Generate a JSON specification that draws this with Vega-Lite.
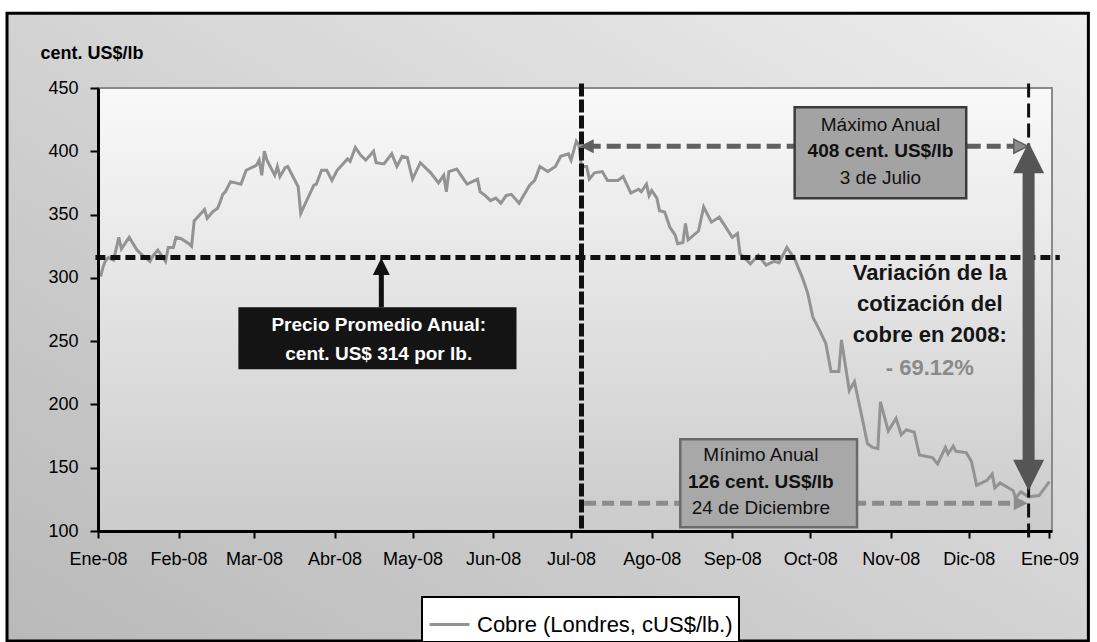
{
  "$schema": "https://vega.github.io/schema/vega-lite/v6.json",
  "width": 954,
  "height": 443,
  "autosize": "none",
  "padding": {"left": 98, "top": 88, "right": 45, "bottom": 111},
  "background": "white",
  "config": {
    "font": "Liberation Sans",
    "view": {"stroke": null},
    "legend": {"strokeWidth": 2}
  },
  "data": {"values": [{}]},
  "datasets": {
    "cobre": [
      {"fecha": "2008-01-02", "cobre": 301}, {"fecha": "2008-01-03", "cobre": 309}, {"fecha": "2008-01-04", "cobre": 314},
      {"fecha": "2008-01-05", "cobre": 316}, {"fecha": "2008-01-07", "cobre": 314}, {"fecha": "2008-01-09", "cobre": 332},
      {"fecha": "2008-01-10", "cobre": 323}, {"fecha": "2008-01-13", "cobre": 332}, {"fecha": "2008-01-16", "cobre": 322},
      {"fecha": "2008-01-18", "cobre": 318}, {"fecha": "2008-01-21", "cobre": 313}, {"fecha": "2008-01-22", "cobre": 317},
      {"fecha": "2008-01-24", "cobre": 322}, {"fecha": "2008-01-25", "cobre": 319}, {"fecha": "2008-01-27", "cobre": 313},
      {"fecha": "2008-01-28", "cobre": 324}, {"fecha": "2008-01-30", "cobre": 324}, {"fecha": "2008-01-31", "cobre": 332},
      {"fecha": "2008-02-02", "cobre": 331}, {"fecha": "2008-02-05", "cobre": 327}, {"fecha": "2008-02-06", "cobre": 325},
      {"fecha": "2008-02-07", "cobre": 345}, {"fecha": "2008-02-11", "cobre": 354}, {"fecha": "2008-02-12", "cobre": 347},
      {"fecha": "2008-02-14", "cobre": 352}, {"fecha": "2008-02-16", "cobre": 355}, {"fecha": "2008-02-17", "cobre": 360},
      {"fecha": "2008-02-18", "cobre": 366}, {"fecha": "2008-02-19", "cobre": 368}, {"fecha": "2008-02-21", "cobre": 376},
      {"fecha": "2008-02-25", "cobre": 374}, {"fecha": "2008-02-27", "cobre": 385}, {"fecha": "2008-02-29", "cobre": 387},
      {"fecha": "2008-03-02", "cobre": 389}, {"fecha": "2008-03-03", "cobre": 393}, {"fecha": "2008-03-04", "cobre": 381},
      {"fecha": "2008-03-05", "cobre": 400}, {"fecha": "2008-03-06", "cobre": 393}, {"fecha": "2008-03-09", "cobre": 381},
      {"fecha": "2008-03-10", "cobre": 388}, {"fecha": "2008-03-11", "cobre": 380}, {"fecha": "2008-03-13", "cobre": 387},
      {"fecha": "2008-03-14", "cobre": 388}, {"fecha": "2008-03-18", "cobre": 372}, {"fecha": "2008-03-19", "cobre": 351},
      {"fecha": "2008-03-24", "cobre": 373}, {"fecha": "2008-03-25", "cobre": 374}, {"fecha": "2008-03-27", "cobre": 385},
      {"fecha": "2008-03-29", "cobre": 385}, {"fecha": "2008-03-31", "cobre": 377}, {"fecha": "2008-04-02", "cobre": 385},
      {"fecha": "2008-04-06", "cobre": 394}, {"fecha": "2008-04-07", "cobre": 392}, {"fecha": "2008-04-09", "cobre": 403},
      {"fecha": "2008-04-11", "cobre": 397}, {"fecha": "2008-04-13", "cobre": 393}, {"fecha": "2008-04-16", "cobre": 400},
      {"fecha": "2008-04-17", "cobre": 391}, {"fecha": "2008-04-20", "cobre": 390}, {"fecha": "2008-04-23", "cobre": 398},
      {"fecha": "2008-04-25", "cobre": 388}, {"fecha": "2008-04-27", "cobre": 396}, {"fecha": "2008-04-29", "cobre": 395},
      {"fecha": "2008-05-01", "cobre": 378}, {"fecha": "2008-05-04", "cobre": 391}, {"fecha": "2008-05-08", "cobre": 383},
      {"fecha": "2008-05-11", "cobre": 375}, {"fecha": "2008-05-13", "cobre": 381}, {"fecha": "2008-05-14", "cobre": 368},
      {"fecha": "2008-05-15", "cobre": 384}, {"fecha": "2008-05-18", "cobre": 386}, {"fecha": "2008-05-20", "cobre": 380},
      {"fecha": "2008-05-22", "cobre": 374}, {"fecha": "2008-05-26", "cobre": 378}, {"fecha": "2008-05-27", "cobre": 368},
      {"fecha": "2008-05-29", "cobre": 365}, {"fecha": "2008-05-31", "cobre": 361}, {"fecha": "2008-06-02", "cobre": 363},
      {"fecha": "2008-06-04", "cobre": 359}, {"fecha": "2008-06-06", "cobre": 365}, {"fecha": "2008-06-08", "cobre": 366},
      {"fecha": "2008-06-11", "cobre": 359}, {"fecha": "2008-06-15", "cobre": 373}, {"fecha": "2008-06-17", "cobre": 377},
      {"fecha": "2008-06-19", "cobre": 388}, {"fecha": "2008-06-22", "cobre": 384}, {"fecha": "2008-06-25", "cobre": 388},
      {"fecha": "2008-06-27", "cobre": 396}, {"fecha": "2008-06-30", "cobre": 398}, {"fecha": "2008-07-01", "cobre": 393},
      {"fecha": "2008-07-03", "cobre": 408}, {"fecha": "2008-07-04", "cobre": 405}, {"fecha": "2008-07-05", "cobre": 388},
      {"fecha": "2008-07-07", "cobre": 388}, {"fecha": "2008-07-08", "cobre": 378}, {"fecha": "2008-07-10", "cobre": 383},
      {"fecha": "2008-07-13", "cobre": 384}, {"fecha": "2008-07-15", "cobre": 377}, {"fecha": "2008-07-19", "cobre": 377},
      {"fecha": "2008-07-21", "cobre": 380}, {"fecha": "2008-07-24", "cobre": 367}, {"fecha": "2008-07-27", "cobre": 370},
      {"fecha": "2008-07-28", "cobre": 368}, {"fecha": "2008-07-30", "cobre": 374}, {"fecha": "2008-07-31", "cobre": 365},
      {"fecha": "2008-08-01", "cobre": 369}, {"fecha": "2008-08-03", "cobre": 363}, {"fecha": "2008-08-04", "cobre": 353},
      {"fecha": "2008-08-06", "cobre": 352}, {"fecha": "2008-08-08", "cobre": 340}, {"fecha": "2008-08-10", "cobre": 334},
      {"fecha": "2008-08-11", "cobre": 327}, {"fecha": "2008-08-13", "cobre": 328}, {"fecha": "2008-08-14", "cobre": 343},
      {"fecha": "2008-08-15", "cobre": 330}, {"fecha": "2008-08-19", "cobre": 337}, {"fecha": "2008-08-21", "cobre": 356},
      {"fecha": "2008-08-24", "cobre": 344}, {"fecha": "2008-08-27", "cobre": 348}, {"fecha": "2008-09-01", "cobre": 332},
      {"fecha": "2008-09-03", "cobre": 335}, {"fecha": "2008-09-04", "cobre": 319}, {"fecha": "2008-09-08", "cobre": 311},
      {"fecha": "2008-09-11", "cobre": 318}, {"fecha": "2008-09-14", "cobre": 310}, {"fecha": "2008-09-17", "cobre": 313},
      {"fecha": "2008-09-19", "cobre": 312}, {"fecha": "2008-09-22", "cobre": 324}, {"fecha": "2008-09-25", "cobre": 315},
      {"fecha": "2008-09-28", "cobre": 300}, {"fecha": "2008-09-30", "cobre": 288}, {"fecha": "2008-10-02", "cobre": 269},
      {"fecha": "2008-10-05", "cobre": 257}, {"fecha": "2008-10-07", "cobre": 248}, {"fecha": "2008-10-09", "cobre": 226},
      {"fecha": "2008-10-12", "cobre": 226}, {"fecha": "2008-10-13", "cobre": 251}, {"fecha": "2008-10-16", "cobre": 211},
      {"fecha": "2008-10-18", "cobre": 218}, {"fecha": "2008-10-21", "cobre": 189}, {"fecha": "2008-10-23", "cobre": 169},
      {"fecha": "2008-10-25", "cobre": 166}, {"fecha": "2008-10-27", "cobre": 165}, {"fecha": "2008-10-28", "cobre": 202},
      {"fecha": "2008-10-31", "cobre": 179}, {"fecha": "2008-11-03", "cobre": 189}, {"fecha": "2008-11-05", "cobre": 176},
      {"fecha": "2008-11-07", "cobre": 180}, {"fecha": "2008-11-10", "cobre": 178}, {"fecha": "2008-11-12", "cobre": 160},
      {"fecha": "2008-11-17", "cobre": 158}, {"fecha": "2008-11-19", "cobre": 153}, {"fecha": "2008-11-22", "cobre": 166},
      {"fecha": "2008-11-23", "cobre": 161}, {"fecha": "2008-11-25", "cobre": 167}, {"fecha": "2008-11-26", "cobre": 163},
      {"fecha": "2008-11-30", "cobre": 162}, {"fecha": "2008-12-02", "cobre": 155}, {"fecha": "2008-12-04", "cobre": 136},
      {"fecha": "2008-12-08", "cobre": 140}, {"fecha": "2008-12-10", "cobre": 145}, {"fecha": "2008-12-11", "cobre": 134},
      {"fecha": "2008-12-13", "cobre": 138}, {"fecha": "2008-12-18", "cobre": 132}, {"fecha": "2008-12-19", "cobre": 126},
      {"fecha": "2008-12-21", "cobre": 131}, {"fecha": "2008-12-24", "cobre": 127}, {"fecha": "2008-12-28", "cobre": 128},
      {"fecha": "2009-01-01", "cobre": 139}
    ]
  },
  "layer": [
    {
      "mark": {"type": "rect", "fill": {"gradient": "linear", "x1": 1, "y1": 0, "x2": 0, "y2": 1, "stops": [{"offset": 0, "color": "#ededed"}, {"offset": 1, "color": "#b9b9b9"}]}, "stroke": "black", "strokeWidth": 3},
      "encoding": {
        "x": {"datum": {"year": 2007, "month": 11, "date": 27}, "type": "temporal"},
        "x2": {"datum": {"year": 2009, "month": 1, "date": 16}},
        "y": {"datum": 509, "type": "quantitative"},
        "y2": {"datum": 13}
      }
    },
    {
      "mark": {"type": "rect", "fill": {"gradient": "linear", "x1": 0, "y1": 0, "x2": 0, "y2": 1, "stops": [{"offset": 0, "color": "#f9f9f9"}, {"offset": 1, "color": "#cbcbcb"}]}, "stroke": "#8a8a8a", "strokeWidth": 2},
      "encoding": {
        "x": {"datum": {"year": 2008, "month": 1, "date": 1}, "type": "temporal"},
        "x2": {"datum": {"year": 2009, "month": 1, "date": 2}},
        "y": {"datum": 100, "type": "quantitative"},
        "y2": {"datum": 450}
      }
    },
    {
      "data": {"name": "cobre"},
      "mark": {"type": "line", "strokeWidth": 3},
      "encoding": {
        "x": {
          "field": "fecha", "type": "temporal",
          "scale": {"domain": [{"year": 2008, "month": 1, "date": 1}, {"year": 2009, "month": 1, "date": 2}], "nice": false},
          "axis": {
            "title": null, "grid": false, "zindex": 1,
            "tickCount": {"interval": "month", "step": 1},
            "labelExpr": "['Ene','Feb','Mar','Abr','May','Jun','Jul','Ago','Sep','Oct','Nov','Dic'][month(datum.value)] + '-' + timeFormat(datum.value, '%y')",
            "labelFontSize": 18, "labelColor": "black", "labelPadding": 12, "labelOverlap": false, "labelFlush": false, "labelBound": false,
            "domainColor": "black", "domainWidth": 3, "tickColor": "black", "tickWidth": 2, "tickSize": 7
          }
        },
        "y": {
          "field": "cobre", "type": "quantitative",
          "scale": {"domain": [100, 450], "nice": false, "zero": false},
          "axis": {
            "title": "cent. US$/lb", "titleAngle": 0, "titleAlign": "left", "titleBaseline": "middle", "titleX": -58, "titleY": -35,
            "titleFontWeight": "bold", "titleFontSize": 18, "titleColor": "black",
            "grid": false, "zindex": 1, "values": [100, 150, 200, 250, 300, 350, 400, 450],
            "labelFontSize": 18, "labelColor": "black", "labelPadding": 12,
            "domainColor": "black", "domainWidth": 3, "tickColor": "black", "tickWidth": 2, "tickSize": 8
          }
        },
        "color": {
          "datum": "Cobre (Londres, cUS$/lb.)", "type": "nominal",
          "scale": {"range": ["#939393"]},
          "legend": {
            "orient": "none", "legendX": 324, "legendY": 509, "title": null, "direction": "horizontal",
            "fillColor": "white", "strokeColor": "black", "padding": 6, "zindex": 1,
            "symbolType": "stroke", "symbolSize": 1600, "symbolStrokeWidth": 3,
            "labelFontSize": 22, "labelColor": "black", "labelOffset": 6, "labelLimit": 500
          }
        }
      }
    },
    {
      "mark": {"type": "rule", "color": "#111111", "strokeWidth": 5, "strokeDash": [10, 5]},
      "encoding": {
        "x": {"datum": {"year": 2007, "month": 12, "date": 31}, "type": "temporal"},
        "x2": {"datum": {"year": 2009, "month": 1, "date": 5}},
        "y": {"datum": 316, "type": "quantitative"}
      }
    },
    {
      "mark": {"type": "rule", "color": "#111111", "strokeWidth": 5, "strokeDash": [13, 3]},
      "encoding": {
        "x": {"datum": {"year": 2008, "month": 7, "date": 5}, "type": "temporal"},
        "y": {"datum": 453.5, "type": "quantitative"},
        "y2": {"datum": 100}
      }
    },
    {
      "mark": {"type": "rule", "color": "#111111", "strokeWidth": 3, "strokeDash": [14, 6]},
      "encoding": {
        "x": {"datum": {"year": 2008, "month": 12, "date": 24}, "type": "temporal"},
        "y": {"datum": 453.5, "type": "quantitative"},
        "y2": {"datum": 93}
      }
    },
    {
      "mark": {"type": "rule", "color": "#606060", "strokeWidth": 5, "strokeDash": [14, 6]},
      "encoding": {
        "x": {"datum": {"year": 2008, "month": 7, "date": 7}, "type": "temporal"},
        "x2": {"datum": {"year": 2008, "month": 12, "date": 20}},
        "y": {"datum": 404, "type": "quantitative"}
      }
    },
    {
      "mark": {"type": "rule", "color": "#8c8c8c", "strokeWidth": 5, "strokeDash": [12, 6]},
      "encoding": {
        "x": {"datum": {"year": 2008, "month": 7, "date": 6}, "type": "temporal"},
        "x2": {"datum": {"year": 2008, "month": 12, "date": 20}},
        "y": {"datum": 122, "type": "quantitative"}
      }
    },
    {
      "mark": {"type": "point", "shape": "M1,-1L-1,0L1,1Z", "size": 196, "filled": true, "fill": "#606060", "opacity": 1},
      "encoding": {
        "x": {"datum": {"year": 2008, "month": 7, "date": 7}, "type": "temporal"},
        "y": {"datum": 404, "type": "quantitative"}
      }
    },
    {
      "mark": {"type": "point", "shape": "M-1,-1L1,0L-1,1Z", "size": 196, "filled": true, "fill": "#8c8c8c", "stroke": "#606060", "strokeWidth": 1.5, "opacity": 1},
      "encoding": {
        "x": {"datum": {"year": 2008, "month": 12, "date": 21}, "type": "temporal"},
        "y": {"datum": 404, "type": "quantitative"}
      }
    },
    {
      "mark": {"type": "point", "shape": "M-1,-1L1,0L-1,1Z", "size": 196, "filled": true, "fill": "#8c8c8c", "opacity": 1},
      "encoding": {
        "x": {"datum": {"year": 2008, "month": 12, "date": 21}, "type": "temporal"},
        "y": {"datum": 122, "type": "quantitative"}
      }
    },
    {
      "mark": {"type": "rect", "fill": "#a3a3a3", "stroke": "#3c3c3c", "strokeWidth": 2.5},
      "encoding": {
        "x": {"datum": {"year": 2008, "month": 9, "date": 25}, "type": "temporal"},
        "x2": {"datum": {"year": 2008, "month": 11, "date": 30}},
        "y": {"datum": 434.8, "type": "quantitative"},
        "y2": {"datum": 362.9}
      }
    },
    {
      "mark": {"type": "rect", "fill": "#a8a8a8", "stroke": "#6a6a6a", "strokeWidth": 2.5},
      "encoding": {
        "x": {"datum": {"year": 2008, "month": 8, "date": 12}, "type": "temporal"},
        "x2": {"datum": {"year": 2008, "month": 10, "date": 19}},
        "y": {"datum": 172.5, "type": "quantitative"},
        "y2": {"datum": 102.9}
      }
    },
    {
      "mark": {"type": "rect", "fill": "#141414"},
      "encoding": {
        "x": {"datum": {"year": 2008, "month": 2, "date": 24}, "type": "temporal"},
        "x2": {"datum": {"year": 2008, "month": 6, "date": 10}},
        "y": {"datum": 276.8, "type": "quantitative"},
        "y2": {"datum": 227.8}
      }
    },
    {
      "mark": {"type": "rule", "color": "#111111", "strokeWidth": 5},
      "encoding": {
        "x": {"datum": {"year": 2008, "month": 4, "date": 19}, "type": "temporal"},
        "y": {"datum": 276.8, "type": "quantitative"},
        "y2": {"datum": 306}
      }
    },
    {
      "mark": {"type": "point", "shape": "M-1,1L0,-1L1,1Z", "size": 289, "filled": true, "fill": "#111111", "opacity": 1},
      "encoding": {
        "x": {"datum": {"year": 2008, "month": 4, "date": 19}, "type": "temporal"},
        "y": {"datum": 309, "type": "quantitative"}
      }
    },
    {
      "mark": {"type": "rule", "color": "#555555", "strokeWidth": 12},
      "encoding": {
        "x": {"datum": {"year": 2008, "month": 12, "date": 24}, "type": "temporal"},
        "y": {"datum": 383, "type": "quantitative"},
        "y2": {"datum": 156}
      }
    },
    {
      "mark": {"type": "point", "shape": "M-1,1L0,-1L1,1Z", "size": 961, "filled": true, "fill": "#555555", "opacity": 1},
      "encoding": {
        "x": {"datum": {"year": 2008, "month": 12, "date": 24}, "type": "temporal"},
        "y": {"datum": 394.9, "type": "quantitative"}
      }
    },
    {
      "mark": {"type": "point", "shape": "M-1,-1L0,1L1,-1Z", "size": 961, "filled": true, "fill": "#555555", "opacity": 1},
      "encoding": {
        "x": {"datum": {"year": 2008, "month": 12, "date": 24}, "type": "temporal"},
        "y": {"datum": 144.1, "type": "quantitative"}
      }
    },
    {
      "mark": {"type": "text", "fontSize": 19, "fill": "#111111", "align": "center", "baseline": "middle"},
      "encoding": {
        "x": {"datum": {"year": 2008, "month": 10, "date": 28}, "type": "temporal"},
        "y": {"datum": 420.5, "type": "quantitative"},
        "text": {"value": "Máximo Anual"}
      }
    },
    {
      "mark": {"type": "text", "fontSize": 19, "fontWeight": "bold", "fill": "#111111", "align": "center", "baseline": "middle"},
      "encoding": {
        "x": {"datum": {"year": 2008, "month": 10, "date": 28}, "type": "temporal"},
        "y": {"datum": 400.2, "type": "quantitative"},
        "text": {"value": "408 cent. US$/lb"}
      }
    },
    {
      "mark": {"type": "text", "fontSize": 19, "fill": "#111111", "align": "center", "baseline": "middle"},
      "encoding": {
        "x": {"datum": {"year": 2008, "month": 10, "date": 28}, "type": "temporal"},
        "y": {"datum": 378.7, "type": "quantitative"},
        "text": {"value": "3 de Julio"}
      }
    },
    {
      "mark": {"type": "text", "fontSize": 19, "fill": "#111111", "align": "center", "baseline": "middle"},
      "encoding": {
        "x": {"datum": {"year": 2008, "month": 9, "date": 12}, "type": "temporal"},
        "y": {"datum": 159.8, "type": "quantitative"},
        "text": {"value": "Mínimo Anual"}
      }
    },
    {
      "mark": {"type": "text", "fontSize": 19, "fontWeight": "bold", "fill": "#111111", "align": "center", "baseline": "middle"},
      "encoding": {
        "x": {"datum": {"year": 2008, "month": 9, "date": 12}, "type": "temporal"},
        "y": {"datum": 138.5, "type": "quantitative"},
        "text": {"value": "126 cent. US$/lb"}
      }
    },
    {
      "mark": {"type": "text", "fontSize": 19, "fill": "#111111", "align": "center", "baseline": "middle"},
      "encoding": {
        "x": {"datum": {"year": 2008, "month": 9, "date": 12}, "type": "temporal"},
        "y": {"datum": 118, "type": "quantitative"},
        "text": {"value": "24 de Diciembre"}
      }
    },
    {
      "mark": {"type": "text", "fontSize": 19, "fontWeight": "bold", "fill": "white", "align": "center", "baseline": "middle"},
      "encoding": {
        "x": {"datum": {"year": 2008, "month": 4, "date": 18}, "type": "temporal"},
        "y": {"datum": 262.5, "type": "quantitative"},
        "text": {"value": "Precio Promedio Anual:"}
      }
    },
    {
      "mark": {"type": "text", "fontSize": 19, "fontWeight": "bold", "fill": "white", "align": "center", "baseline": "middle"},
      "encoding": {
        "x": {"datum": {"year": 2008, "month": 4, "date": 18}, "type": "temporal"},
        "y": {"datum": 239.6, "type": "quantitative"},
        "text": {"value": "cent. US$ 314 por lb."}
      }
    },
    {
      "mark": {"type": "text", "fontSize": 22, "fontWeight": "bold", "fill": "#151515", "align": "center", "baseline": "middle", "lineHeight": 31, "lineBreak": "\n"},
      "encoding": {
        "x": {"datum": {"year": 2008, "month": 11, "date": 16}, "type": "temporal"},
        "y": {"datum": 303.6, "type": "quantitative"},
        "text": {"value": "Variación de la\ncotización del\ncobre en 2008:"}
      }
    },
    {
      "mark": {"type": "text", "fontSize": 22, "fontWeight": "bold", "fill": "#8a8a8a", "align": "center", "baseline": "middle"},
      "encoding": {
        "x": {"datum": {"year": 2008, "month": 11, "date": 16}, "type": "temporal"},
        "y": {"datum": 228.6, "type": "quantitative"},
        "text": {"value": "- 69.12%"}
      }
    }
  ]
}
